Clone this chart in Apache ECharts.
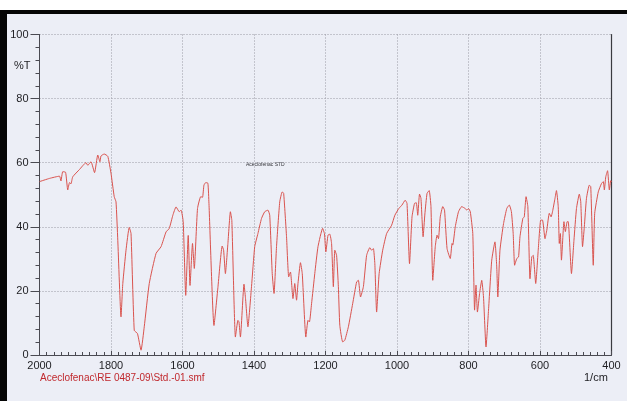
<!DOCTYPE html>
<html>
<head>
<meta charset="utf-8">
<title>Aceclofenac STD – IR spectrum</title>
<script src="https://cdn.jsdelivr.net/npm/echarts@6/dist/echarts.min.js"></script>
<style>
  html, body { margin: 0; padding: 0; background: #ffffff; }
  #chart { width: 627px; height: 401px; }
</style>
</head>
<body>
<div id="chart"></div>
<script>
// Wavenumber (1/cm), descending, and transmittance (%T) of the recorded spectrum
const wavenumbers = [
  2000, 1972, 1944, 1940, 1935, 1927, 1921, 1916, 1912, 1907, 1888, 1870, 1865, 1856, 1846,
  1837, 1831, 1828, 1819, 1809, 1800, 1791, 1786, 1781, 1772, 1767, 1758, 1749, 1744, 1735,
  1726, 1716, 1707, 1693, 1674, 1660, 1646, 1637, 1627, 1618, 1609, 1604, 1598, 1591, 1584,
  1579, 1572, 1567, 1558, 1549, 1544, 1540, 1535, 1529, 1526, 1512, 1501, 1489, 1485, 1480,
  1473, 1466, 1462, 1452, 1445, 1442, 1438, 1428, 1424, 1417, 1407, 1398, 1389, 1379, 1370,
  1361, 1356, 1349, 1344, 1337, 1328, 1321, 1317, 1309, 1303, 1298, 1291, 1286, 1281, 1277,
  1270, 1265, 1255, 1249, 1245, 1239, 1230, 1221, 1208, 1203, 1199, 1193, 1188, 1183, 1178,
  1174, 1169, 1164, 1160, 1152, 1146, 1136, 1124, 1113, 1108, 1102, 1094, 1085, 1076, 1071,
  1066, 1062, 1057, 1050, 1040, 1029, 1015, 1006, 995, 986, 977, 972, 965, 958, 951,
  946, 942, 937, 933, 927, 922, 916, 910, 905, 900, 893, 888, 884, 879, 872,
  867, 860, 851, 846, 844, 837, 828, 819, 809, 805, 800, 795, 788, 783, 779,
  775, 769, 763, 758, 751, 744, 735, 726, 721, 718, 712, 702, 693, 686, 680,
  675, 671, 665, 660, 656, 648, 644, 639, 634, 628, 623, 619, 612, 605, 598,
  593, 586, 581, 574, 569, 565, 558, 554, 549, 546, 543, 540, 533, 529, 524,
  521, 512, 505, 498, 490, 486, 481, 476, 470, 462, 458, 451, 447, 437, 428,
  423, 420, 416, 411, 406, 402, 400
];
const transmittance = [
  54.1, 55.1, 55.8, 54.3, 57.2, 57.0, 51.5, 53.8, 53.4, 55.6, 57.9, 60.0, 59.2, 60.3, 56.9,
  62.4, 60.3, 62.1, 62.7, 62.0, 56.7, 49.4, 47.8, 35.8, 11.9, 22.3, 32.7, 39.8, 37.9, 7.7,
  6.7, 1.5, 8.8, 22.3, 31.7, 33.8, 38.4, 39.5, 43.6, 46.2, 44.7, 45.2, 41.6, 18.6, 37.3,
  21.7, 34.8, 27.0, 45.7, 49.4, 49.2, 53.0, 53.8, 53.6, 47.3, 9.2, 21.0, 34.0, 32.7, 25.4,
  34.8, 44.7, 42.0, 5.6, 10.8, 10.3, 5.6, 22.1, 18.0, 8.8, 21.3, 33.8, 37.9, 42.6, 44.7,
  45.2, 43.6, 25.4, 19.2, 33.8, 47.8, 50.9, 50.4, 36.9, 24.4, 25.9, 17.6, 22.3, 17.1, 22.3,
  28.8, 25.4, 5.6, 10.8, 10.3, 16.0, 25.4, 33.8, 39.5, 37.9, 32.2, 37.4, 37.7, 34.8, 21.3,
  32.7, 31.1, 21.3, 9.3, 4.1, 4.6, 8.8, 16.0, 22.8, 23.3, 18.1, 21.3, 31.1, 33.5, 32.7,
  33.2, 28.5, 13.4, 25.4, 32.7, 37.9, 40.5, 43.6, 45.7, 46.8, 48.3, 47.3, 28.5, 43.1, 47.3,
  47.5, 43.6, 50.2, 48.9, 36.9, 44.0, 50.4, 51.3, 46.3, 23.3, 33.8, 37.4, 36.3, 43.1, 46.3,
  45.2, 33.2, 30.1, 34.8, 34.3, 40.0, 44.7, 46.3, 45.7, 45.2, 45.7, 44.7, 37.9, 14.0, 21.8,
  13.4, 19.2, 23.3, 18.1, 2.5, 14.0, 29.6, 35.3, 27.5, 18.1, 32.7, 41.0, 45.7, 46.8, 44.7,
  37.9, 28.0, 30.1, 30.6, 36.9, 42.6, 43.1, 49.4, 46.3, 23.8, 30.6, 31.1, 22.3, 32.7, 42.1,
  42.1, 36.3, 38.9, 44.2, 43.1, 44.7, 48.9, 51.3, 46.3, 34.8, 37.9, 29.6, 41.6, 38.5, 41.6,
  41.6, 25.4, 35.8, 45.7, 50.2, 47.8, 33.8, 40.0, 48.9, 53.0, 52.5, 28.0, 44.2, 50.9, 53.5,
  54.1, 51.5, 55.6, 57.5, 51.5, 54.4, 54.0
];

// Axis ranges and labels
const xRange = [400, 2000];
const yRange = [0, 100];
const xUnit = '1/cm';
const yUnit = '%T';
const fileName = 'Aceclofenac\\RE 0487-09\\Std.-01.smf';
const sampleTag = 'Aceclofenac STD';

const spectrum = wavenumbers.map((w, i) => [w, transmittance[i]]);

const chart = echarts.init(document.getElementById('chart'), null, { renderer: 'canvas' });

const labelFont = { fontFamily: 'Liberation Sans, Arial, sans-serif', fontSize: 11, color: '#1e1e22' };
const gridLine = { show: true, lineStyle: { color: '#9a9aa4', type: [1, 2], width: 1 } };
const plainNumber = v => String(v);

chart.setOption({
  backgroundColor: '#eceef6',
  animation: false,
  grid: { left: 39.5, right: 15.5, top: 34.5, bottom: 46, containLabel: false },
  xAxis: {
    type: 'value',
    inverse: true,
    min: xRange[0],
    max: xRange[1],
    interval: 200,
    axisLine: { show: true, onZero: false, lineStyle: { color: '#4a4a52', width: 1 } },
    axisTick: { show: true, inside: true, length: 4, lineStyle: { color: '#4a4a52' } },
    minorTick: { show: true, splitNumber: 10, length: 3, lineStyle: { color: '#4a4a52' } },
    axisLabel: Object.assign({ margin: 5, formatter: plainNumber }, labelFont),
    splitLine: gridLine
  },
  yAxis: [
    {
      type: 'value',
      min: yRange[0],
      max: yRange[1],
      interval: 20,
      axisLine: { show: true, lineStyle: { color: '#4a4a52', width: 1 } },
      axisTick: { show: true, inside: false, length: 9, lineStyle: { color: '#4a4a52' } },
      minorTick: { show: true, splitNumber: 5, length: 4, lineStyle: { color: '#4a4a52' } },
      axisLabel: Object.assign({ margin: 11, formatter: plainNumber }, labelFont),
      splitLine: gridLine
    },
    {
      type: 'value',
      position: 'right',
      min: yRange[0],
      max: yRange[1],
      axisLine: { show: true, lineStyle: { color: '#3a3a40', width: 1.2 } },
      axisTick: { show: false },
      axisLabel: { show: false },
      splitLine: { show: false }
    }
  ],
  series: [{
    type: 'line',
    data: spectrum,
    showSymbol: false,
    smooth: 0.15,
    lineStyle: { color: '#d9534e', width: 1 },
    z: 3
  }],
  graphic: [
    // paper edge and scanner frame
    { type: 'rect', shape: { x: 0, y: 0, width: 627, height: 10 }, style: { fill: '#ffffff' }, silent: true },
    { type: 'rect', shape: { x: 0, y: 10, width: 627, height: 4 }, style: { fill: '#050505' }, silent: true },
    { type: 'rect', shape: { x: 0, y: 10, width: 7, height: 391 }, style: { fill: '#050505' }, silent: true },
    // axis captions and annotations
    { type: 'text', left: 14, top: 60, style: { text: yUnit, font: '11px "Liberation Sans", Arial, sans-serif', fill: '#1e1e22' } },
    { type: 'text', left: 584, top: 372, style: { text: xUnit, font: '11px "Liberation Sans", Arial, sans-serif', fill: '#1e1e22' } },
    { type: 'text', left: 40, top: 373, style: { text: fileName, font: '10px "Liberation Sans", Arial, sans-serif', fill: '#c0282d' } },
    { type: 'text', left: 246, top: 162, style: { text: sampleTag, font: '5px "Liberation Sans", Arial, sans-serif', fill: '#333338' } }
  ]
});
</script>
</body>
</html>
